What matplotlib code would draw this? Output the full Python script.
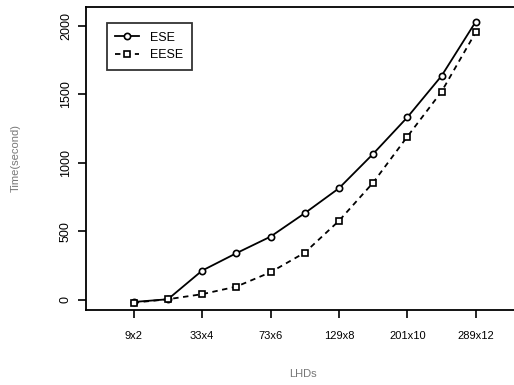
import numpy as np
import matplotlib.pyplot as plt

plt.rcParams['font.family'] = ['Liberation Sans', 'DejaVu Sans']

# positions of the 11 designs, only every other one labelled
x = np.arange(1, 12)
tick_pos = [1, 3, 5, 7, 9, 11]
tick_labels = ['9x2', '33x4', '73x6', '129x8', '201x10', '289x12']

ese = [-15, 5, 214, 341, 462, 633, 815, 1066, 1333, 1635, 2031]
eese = [-20, 5, 42, 97, 202, 345, 577, 856, 1192, 1520, 1954]

fig = plt.figure(figsize=(5.14, 3.85), dpi=100)
ax = fig.add_axes([0.167, 0.195, 0.845, 0.787])

ax.plot(x, ese, '-', color='black', lw=1.3, marker='o', ms=4.5,
        mfc='white', mec='black', mew=1.2, label='ESE')
ax.plot(x, eese, '--', color='black', lw=1.3, dashes=(3, 2.5), marker='s', ms=4.5,
        mfc='white', mec='black', mew=1.2, label='EESE')

ax.set_xlim(-0.4, 12.3)
ax.set_ylim(-73, 2139)
ax.set_xticks(tick_pos)
ax.set_xticklabels(tick_labels, fontsize=8)
ax.set_yticks([0, 500, 1000, 1500, 2000])
ax.set_yticklabels(['0', '500', '1000', '1500', '2000'], fontsize=9, rotation=90, va='center')
ax.tick_params(axis='both', length=6, width=1.2, direction='out', colors='black')
ax.tick_params(axis='x', pad=9)
ax.tick_params(axis='y', pad=4)

for s in ax.spines.values():
    s.set_linewidth(1.3)
ax.spines['right'].set_visible(False)

ax.set_xlabel('LHDs', fontsize=8, color='#777777', labelpad=20)
ax.set_ylabel('Time(second)', fontsize=8, color='#777777', labelpad=28)

leg = ax.legend(loc='upper left', bbox_to_anchor=(0.048, 0.947), borderaxespad=0,
                fontsize=9, frameon=True, fancybox=False, handlelength=1.9,
                handletextpad=0.9, borderpad=0.7, labelspacing=0.45)
leg.get_frame().set_edgecolor('black')
leg.get_frame().set_linewidth(1.3)

fig.savefig('out.png', dpi=100)
